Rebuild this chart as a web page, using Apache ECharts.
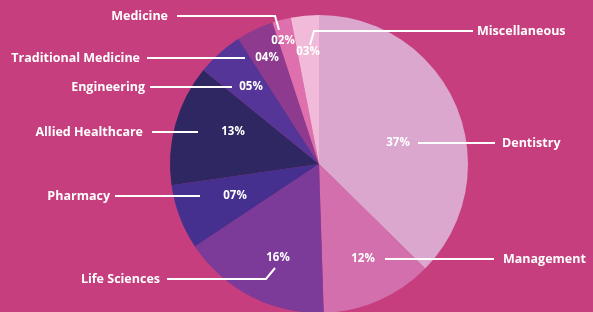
<!DOCTYPE html>
<html>
<head>
<meta charset="utf-8">
<script src="https://cdn.jsdelivr.net/npm/echarts@6/dist/echarts.min.js"></script>
<style>
  html, body { margin: 0; padding: 0; background: #c63e7d; }
  #chart { width: 593px; height: 312px; }
</style>
</head>
<body>
<div id="chart"></div>
<script>
// slices, clockwise from 12 o'clock
const fields = ['Dentistry', 'Management', 'Life Sciences', 'Pharmacy', 'Allied Healthcare',
  'Engineering', 'Traditional Medicine', 'Medicine', 'Miscellaneous'];
const shares = [37, 12, 16, 7, 13, 5, 4, 2, 3];
const shareLabels = ['37%', '12%', '16%', '07%', '13%', '05%', '04%', '02%', '03%'];

const colors = ['#dba7cf', '#d46fad', '#7c3b99', '#46308f', '#2e2762',
  '#553597', '#8d3a8f', '#dd70ad', '#f0bad8'];

// hand placed annotations (name anchor, percent anchor, leader line)
const callouts = [
  { name: [502, 143, 'left'],  pct: [398, 143], line: [[418, 143], [456, 143], [495, 143]] },
  { name: [503, 259, 'left'],  pct: [363, 259], line: [[385, 259], [440, 259], [494, 259]] },
  { name: [160, 279, 'right'], pct: [278, 258], line: [[275, 268], [266, 279], [167, 279]] },
  { name: [110, 196, 'right'], pct: [235, 196], line: [[200, 196], [157, 196], [115, 196]] },
  { name: [143, 132, 'right'], pct: [233, 132], line: [[198, 132], [175, 132], [152, 132]] },
  { name: [145, 87, 'right'],  pct: [251, 87],  line: [[232, 87], [190, 87], [150, 87]] },
  { name: [140, 58, 'right'],  pct: [267, 58],  line: [[245, 58], [196, 58], [147, 58]] },
  { name: [168, 16, 'right'],  pct: [283, 41],  line: [[279, 30], [275, 16], [177, 16]] },
  { name: [477, 31, 'left'],   pct: [308, 52],  line: [[310, 45], [314, 31], [473, 31]] }
];

const chart = echarts.init(document.getElementById('chart'));

const labelFont = {
  color: '#ffffff',
  fontFamily: 'Open Sans',
  fontWeight: 'bold'
};

const option = {
  backgroundColor: '#c63e7d',
  animation: false,
  series: [
    {
      // visible pie + percentages
      type: 'pie',
      z: 2,
      center: [319, 164],
      radius: [0, 149],
      startAngle: 90,
      clockwise: true,
      avoidLabelOverlap: false,
      data: fields.map((f, i) => ({
        name: f,
        value: shares[i],
        itemStyle: { color: colors[i] }
      })),
      label: {
        show: true,
        position: 'inside',
        formatter: (p) => shareLabels[p.dataIndex],
        fontSize: 11.5,
        ...labelFont
      },
      labelLine: { show: false },
      labelLayout: function (params) {
        const c = callouts[params.dataIndex];
        return { x: c.pct[0], y: c.pct[1], align: 'center', verticalAlign: 'middle' };
      },
      emphasis: { disabled: true }
    },
    {
      // names with leader lines, drawn on top
      type: 'pie',
      z: 5,
      center: [319, 164],
      radius: [0, 149],
      startAngle: 90,
      clockwise: true,
      silent: true,
      avoidLabelOverlap: false,
      data: fields.map((f, i) => ({ name: f, value: shares[i] })),
      itemStyle: { color: 'rgba(0,0,0,0)' },
      label: {
        show: true,
        position: 'outside',
        formatter: '{b}',
        fontSize: 12.5,
        ...labelFont
      },
      labelLine: {
        show: true,
        lineStyle: { color: '#ffffff', width: 2 }
      },
      labelLayout: function (params) {
        const c = callouts[params.dataIndex];
        return {
          x: c.name[0],
          y: c.name[1],
          align: c.name[2],
          verticalAlign: 'middle',
          labelLinePoints: c.line
        };
      },
      emphasis: { disabled: true }
    }
  ]
};

chart.setOption(option);
</script>
</body>
</html>
